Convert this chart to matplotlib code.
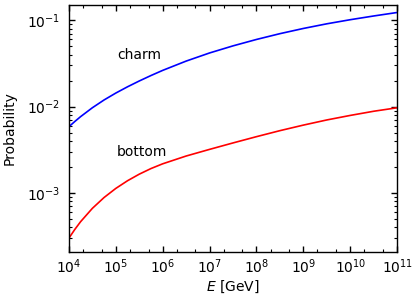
import matplotlib
matplotlib.use("Agg")
import matplotlib.pyplot as plt
from matplotlib.ticker import LogLocator, NullFormatter

log_energy = [4.0, 4.125, 4.25, 4.5, 4.75, 5.0, 5.25, 5.5, 5.75, 6.0, 6.5, 7.0,
              7.5, 8.0, 8.5, 9.0, 9.5, 10.0, 10.5, 11.0]
charm = [5.85e-3, 6.72e-3, 7.66e-3, 9.70e-3, 1.194e-2, 1.435e-2, 1.696e-2, 1.98e-2,
         2.29e-2, 2.627e-2, 3.365e-2, 4.18e-2, 5.05e-2, 5.99e-2, 6.99e-2, 8.03e-2,
         9.09e-2, 1.014e-1, 1.12e-1, 1.229e-1]
bottom = [3.0e-4, 3.78e-4, 4.66e-4, 6.64e-4, 8.87e-4, 1.13e-3, 1.387e-3, 1.652e-3,
          1.919e-3, 2.178e-3, 2.68e-3, 3.20e-3, 3.80e-3, 4.49e-3, 5.27e-3, 6.11e-3,
          7.01e-3, 7.91e-3, 8.84e-3, 9.7e-3]
energy = [10.0 ** v for v in log_energy]

fig = plt.figure(figsize=(4.15, 2.95), dpi=100)
ax = fig.add_axes([0.166, 0.146, 0.791, 0.837])
ax.plot(energy, charm, color="blue", lw=1.2)
ax.plot(energy, bottom, color="red", lw=1.2)
ax.set_xscale("log")
ax.set_yscale("log")
ax.set_xlim(1e4, 1e11)
ax.set_ylim(2.08e-4, 1.5e-1)
ax.set_xticks([10.0 ** k for k in range(4, 12)])
ax.set_yticks([1e-3, 1e-2, 1e-1])
ax.xaxis.set_minor_locator(LogLocator(base=10, subs=(2.0, 5.0), numticks=100))
ax.yaxis.set_minor_locator(LogLocator(base=10, subs=[2, 3, 4, 5, 6, 7, 8, 9], numticks=100))
ax.xaxis.set_minor_formatter(NullFormatter())
ax.yaxis.set_minor_formatter(NullFormatter())
ax.tick_params(which="both", direction="in", top=True, right=True, labelsize=10)
ax.tick_params(which="major", length=4, width=1)
ax.tick_params(which="minor", length=2, width=0.8)
ax.tick_params(axis="y", pad=6)
ax.tick_params(axis="x", pad=4)
for s in ax.spines.values():
    s.set_linewidth(1.0)
ax.text(1.07e5, 0.0359, "charm", fontsize=10, ha="left", va="baseline")
ax.text(1.07e5, 2.65e-3, "bottom", fontsize=10, ha="left", va="baseline")
ax.set_xlabel("$E$ [GeV]", fontsize=10, labelpad=2)
ax.set_ylabel("Probability", fontsize=10, labelpad=8)
fig.savefig("out.png", dpi=100)
